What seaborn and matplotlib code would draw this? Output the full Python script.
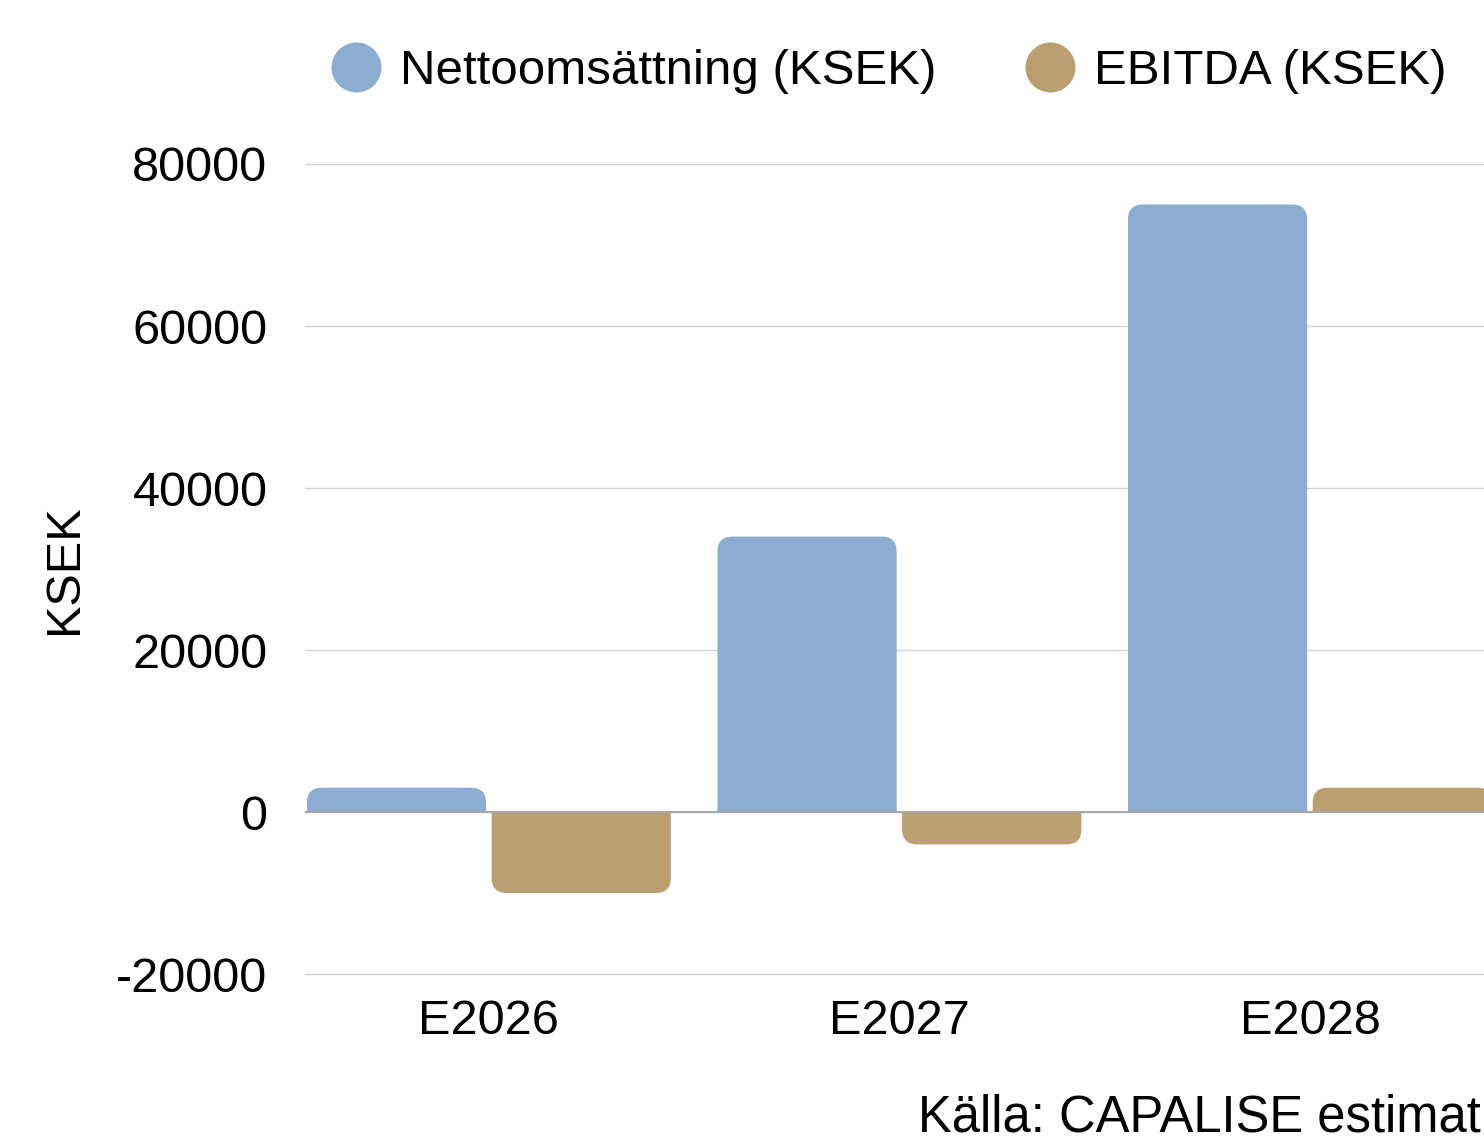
import numpy as np
import pandas as pd
import seaborn as sns
import matplotlib.pyplot as plt
from matplotlib.path import Path
from matplotlib.patches import PathPatch
from matplotlib.lines import Line2D

years = ["E2026", "E2027", "E2028"]
netto = [3000, 34000, 75000]
ebitda = [-10000, -4000, 3000]
series = ["Nettoomsättning (KSEK)", "EBITDA (KSEK)"]
colors = ["#8cacd2", "#bc9f70"]
yticks = [-20000, 0, 20000, 40000, 60000, 80000]
ytick_labels = ["-20000", "0", "20000", "40000", "60000", "80000"]

df = pd.DataFrame({
    "År": years * 2,
    "Serie": [series[0]] * 3 + [series[1]] * 3,
    "KSEK": netto + ebitda,
})

sns.set_style("white")
plt.rcParams['font.family'] = ['Liberation Sans', 'DejaVu Sans']
plt.rcParams['axes.unicode_minus'] = False
for k in ["text.color", "axes.labelcolor", "xtick.color", "ytick.color"]:
    plt.rcParams[k] = "black"

W, H = 1484, 1142
fig = plt.figure(figsize=(W / 100, H / 100), dpi=100)
# plot area runs past the right edge, like the cropped original
ax = fig.add_axes([305 / W, 1 - 974 / H, (W - 305) / W, 810 / H])

sns.barplot(data=df, x="År", y="KSEK", hue="Serie", palette=colors, saturation=1,
            width=0.9, gap=0.03, linewidth=0, legend=False, ax=ax, zorder=2)

ax.set_xlim(-0.448, 2.424)
ax.set_ylim(-20000, 80000)
ax.set_yticks(yticks)
ax.set_yticklabels(ytick_labels)

# rounded corners on the outer end of each bar
px_x = 1 / 410.5
px_y = 100000 / 810
r = 15
for p in list(ax.patches):
    x0, y0 = p.get_x(), p.get_y()
    w, h = p.get_width(), p.get_height()
    if h == 0:
        continue
    s = 1 if h > 0 else -1
    x1 = x0 + w
    tip = y0 + h
    rx = min(r * px_x, w / 2)
    ry = min(r * px_y, abs(h))
    verts = [(x0, y0), (x0, tip - s * ry), (x0, tip), (x0 + rx, tip),
             (x1 - rx, tip), (x1, tip), (x1, tip - s * ry), (x1, y0), (x0, y0)]
    codes = [Path.MOVETO, Path.LINETO, Path.CURVE3, Path.CURVE3,
             Path.LINETO, Path.CURVE3, Path.CURVE3, Path.LINETO, Path.CLOSEPOLY]
    ax.add_patch(PathPatch(Path(verts, codes), facecolor=p.get_facecolor(),
                           edgecolor="none", zorder=2))
    p.remove()

ax.grid(axis="y", color="#d4d4d4", lw=1)
ax.grid(axis="x", visible=False)
for gl in ax.get_ygridlines():
    gl.set_clip_on(False)
ax.set_axisbelow(True)
ax.axhline(0, color="#a8a8a8", lw=1.5, zorder=3)
for sp in ax.spines.values():
    sp.set_visible(False)

ax.tick_params(axis="both", length=0, labelsize=35)
ax.tick_params(axis="y", pad=27)
ax.tick_params(axis="x", pad=18)
ax.set_xlabel("")
ax.set_ylabel("KSEK", fontsize=35)
ax.yaxis.set_label_coords(-0.1845, 0.5)

handles = [Line2D([], [], marker="o", ls="", markersize=36,
                  markerfacecolor=c, markeredgewidth=0) for c in colors]
fig.legend(handles, series, loc="center", bbox_to_anchor=(889 / W, 1 - 72 / H),
           ncol=2, frameon=False, fontsize=35.5, handlelength=1.0,
           handletextpad=0.4, columnspacing=1.8, borderaxespad=0)

fig.text(918 / W, 1 - 1132 / H, "Källa: CAPALISE estimat", fontsize=36.5,
         va="baseline")

fig.savefig("out.png", dpi=100)
